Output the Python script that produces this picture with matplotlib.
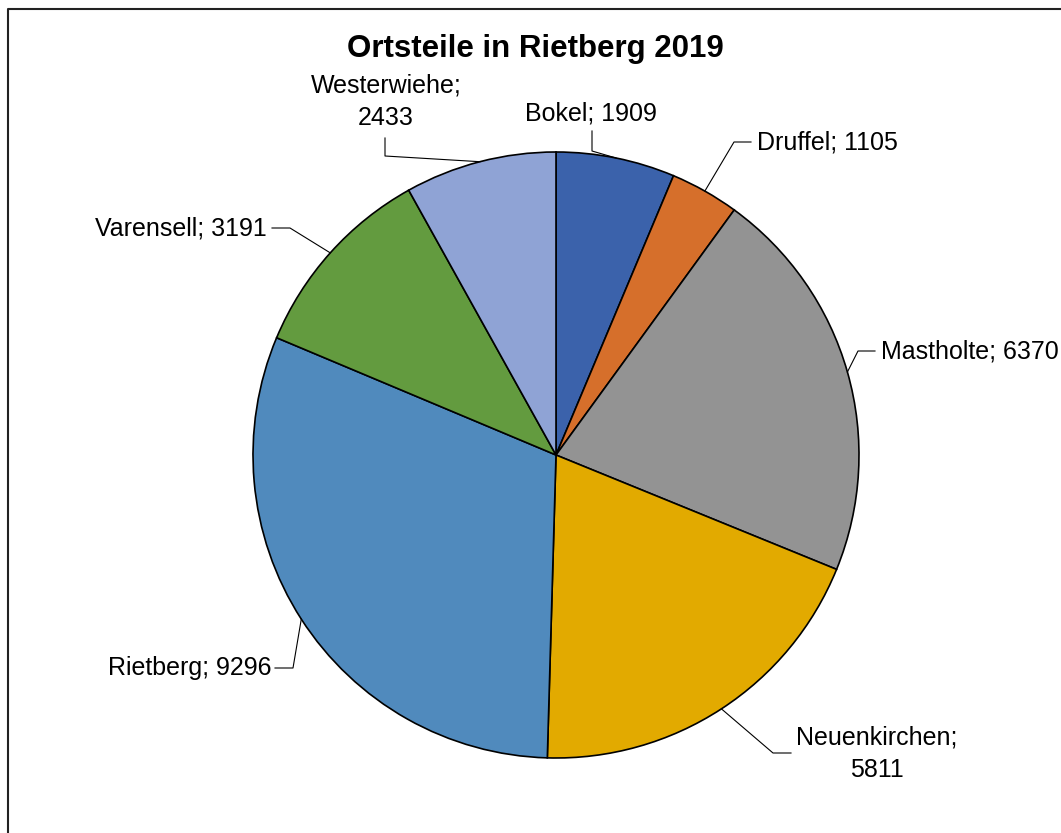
import numpy as np
import matplotlib
matplotlib.use('Agg')
import matplotlib.pyplot as plt

plt.rcParams['font.family'] = ['Liberation Sans', 'DejaVu Sans']

names = ['Bokel', 'Druffel', 'Mastholte', 'Neuenkirchen', 'Rietberg', 'Varensell', 'Westerwiehe']
values = [1909, 1105, 6370, 5811, 9296, 3191, 2433]
colors = ['#3b62ab', '#d66f2b', '#939393', '#e2aa00', '#508abd', '#639b3f', '#8fa3d5']
title = 'Ortsteile in Rietberg 2019'

W, H = 1061, 833
fig = plt.figure(figsize=(W / 100, H / 100), dpi=100)
ax = fig.add_axes([0, 0, 1, 1])

cx, cy, r = 556, H - 455, 303

wedges, _ = ax.pie(values, startangle=90, counterclock=False, colors=colors,
                   center=(cx, cy), radius=r, frame=True,
                   wedgeprops=dict(edgecolor='black', linewidth=1.2))
ax.set_xlim(0, W)
ax.set_ylim(0, H)
ax.set_aspect('equal')
ax.axis('off')

# label text position (pixels from top-left), alignment, elbow points
labels = [
    ((591, 113), 'center', [(592, 131), (592, 151)]),
    ((757, 142), 'left', [(751, 142), (734, 142)]),
    ((881, 351), 'left', [(875, 351), (858, 351)]),
    ((877, 754), 'center', [(791, 753), (773, 753)]),
    ((272, 668), 'right', [(275, 668), (293, 668)]),
    ((267, 228), 'right', [(272, 228), (290, 228)]),
    ((386, 102), 'center', [(385, 138), (385, 156)]),
]
texts = [f'{n}; {v}' for n, v in zip(names, values)]
texts[3] = 'Neuenkirchen;\n5811'
texts[6] = 'Westerwiehe;\n2433'

for w, (pos, ha, elbow), t in zip(wedges, labels, texts):
    mid = np.deg2rad((w.theta1 + w.theta2) / 2)
    ex, ey = cx + r * np.cos(mid), cy + r * np.sin(mid)
    xs = [p[0] for p in elbow] + [ex]
    ys = [H - p[1] for p in elbow] + [ey]
    ax.plot(xs, ys, color='black', linewidth=0.8)
    ax.text(pos[0], H - pos[1], t, ha=ha, va='center', fontsize=18,
            linespacing=1.45, multialignment='center')

ax.text(535, H - 49, title, ha='center', va='center', fontsize=22.5, fontweight='bold')

# outer frame
ax.plot([8, 8, W + 5], [-5, H - 9, H - 9], color='#222222', linewidth=1.5, clip_on=False)

fig.savefig('out.png', dpi=100)
